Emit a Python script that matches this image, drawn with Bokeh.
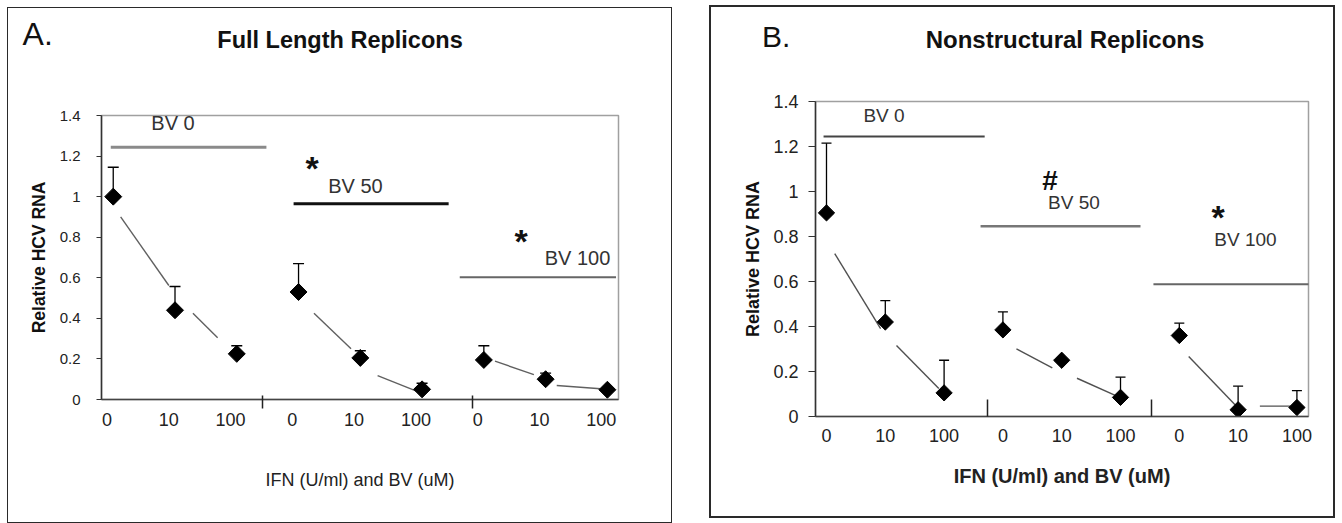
import math
from bokeh.plotting import figure
from bokeh.models import FixedTicker, Label, Spacer, ColumnDataSource, Div
from bokeh.layouts import row, column
from bokeh.embed import file_html
from bokeh.resources import INLINE

# ---------------- data ----------------
ifn_labels = ["0", "10", "100", "0", "10", "100", "0", "10", "100"]
bv_groups = ["BV 0", "BV 50", "BV 100"]
y_ticks = [0, 0.2, 0.4, 0.6, 0.8, 1.0, 1.2, 1.4]
y_tick_labels = ["0", "0.2", "0.4", "0.6", "0.8", "1", "1.2", "1.4"]

# Panel A: Full Length Replicons
a_values = [1.0, 0.44, 0.225, 0.53, 0.205, 0.05, 0.195, 0.10, 0.048]
a_errors = [0.145, 0.117, 0.04, 0.14, 0.035, 0.03, 0.07, 0.03, 0.0]
a_marks = ["", "*", "*"]
a_bar_level = [1.243, 0.965, 0.603]
a_bar_start = [-0.04, 2.92, 5.61]
a_bar_end = [2.48, 5.43, 8.14]
a_trend_x0 = [0.12, 1.29, 3.25, 4.28, 6.18, 7.18]
a_trend_y0 = [0.90, 0.425, 0.425, 0.118, 0.189, 0.069]
a_trend_x1 = [0.90, 1.69, 3.85, 4.91, 6.81, 7.89]
a_trend_y1 = [0.562, 0.304, 0.25, 0.041, 0.123, 0.053]

# Panel B: Nonstructural Replicons
b_values = [0.905, 0.42, 0.105, 0.385, 0.25, 0.085, 0.36, 0.03, 0.04]
b_errors = [0.31, 0.095, 0.145, 0.08, 0.0, 0.09, 0.055, 0.105, 0.075]
b_marks = ["", "#", "*"]
b_bar_level = [1.245, 0.846, 0.588]
b_bar_start = [-0.05, 2.62, 5.56]
b_bar_end = [2.69, 5.34, 8.28]
b_trend_x0 = [0.14, 1.19, 3.23, 4.26, 6.16, 7.37]
b_trend_y0 = [0.724, 0.316, 0.301, 0.17, 0.267, 0.046]
b_trend_x1 = [0.92, 1.91, 3.84, 4.92, 6.96, 7.89]
b_trend_y1 = [0.391, 0.124, 0.216, 0.093, 0.049, 0.046]

SANS = "'Liberation Sans', Arial, sans-serif"
HEAD_H = 60  # height of the heading strip (letter + title)


def heading(cfg):
    w = cfg["w"]
    lx, ltop, ltxt, lsize = cfg["letter"]
    tx, ttop, ttxt, tsize = cfg["title"]
    html = (
        '<div style="position:relative;width:%dpx;height:%dpx;overflow:visible;'
        'font-family:%s;color:#111111;">'
        '<span style="position:absolute;left:%.1fpx;top:%.1fpx;font-size:%s;line-height:1;'
        'white-space:nowrap;">%s</span>'
        '<span style="position:absolute;left:%.1fpx;top:%.1fpx;font-size:%s;font-weight:bold;'
        'line-height:1;white-space:nowrap;transform:translateX(-50%%);">%s</span>'
        '</div>'
    ) % (w, HEAD_H, SANS.replace("'", "&#39;"), lx, ltop, lsize, ltxt, tx, ttop, tsize, ttxt)
    return Div(text=html, width=w, height=HEAD_H, margin=0)


def make_panel(cfg, values, errors, trend, bars, marks):
    fl, ft, fr, fb = cfg["frame"]  # frame in page pixels
    x0r, x1r = cfg["xr"]
    ox, oy = cfg["origin"]
    oy = oy + HEAD_H
    h = cfg["h"] - HEAD_H
    p = figure(
        width=cfg["w"], height=h,
        min_border_left=fl - ox, min_border_top=ft - oy,
        min_border_right=cfg["w"] - (fr - ox), min_border_bottom=h - (fb - oy),
        x_range=(x0r, x1r), y_range=(0, 1.4),
        output_backend="svg", toolbar_location=None,
        border_fill_alpha=0, background_fill_color="white", margin=0,
    )
    p.grid.visible = False
    p.outline_line_color = "#a0a0a0"
    p.outline_line_width = 1.5

    def dx(px):
        return x0r + (px - fl) / (fr - fl) * (x1r - x0r)

    def dy(py):
        return (fb - py) / (fb - ft) * 1.4

    # axes
    xs = list(range(len(values)))
    tick_pos = [i + cfg["label_shift"] for i in xs]
    p.xaxis.ticker = FixedTicker(ticks=tick_pos, minor_ticks=cfg["separators"])
    p.xaxis.major_label_overrides = {t: lab for t, lab in zip(tick_pos, ifn_labels)}
    p.xaxis.major_tick_line_color = None
    p.xaxis.major_tick_in = 0
    p.xaxis.major_tick_out = 0
    p.xaxis.minor_tick_line_color = "#222222"
    p.xaxis.minor_tick_line_width = 1.5
    p.xaxis.minor_tick_in = cfg["sep_in"]
    p.xaxis.minor_tick_out = cfg["sep_out"]
    p.xaxis.axis_line_color = "#444444"
    p.xaxis.axis_line_width = 1.5
    p.xaxis.major_label_text_font = SANS
    p.xaxis.major_label_text_font_size = cfg["xtick_size"]
    p.xaxis.major_label_text_color = "#222222"
    p.xaxis.major_label_standoff = cfg["xtick_standoff"]
    p.xaxis.axis_label = "IFN (U/ml) and BV (uM)"
    p.xaxis.axis_label_text_font = SANS
    p.xaxis.axis_label_text_font_size = cfg["xlab_size"]
    p.xaxis.axis_label_text_font_style = cfg["xlab_style"]
    p.xaxis.axis_label_text_color = "#222222"
    p.xaxis.axis_label_standoff = cfg["xlab_standoff"]

    p.yaxis.ticker = FixedTicker(ticks=y_ticks, minor_ticks=[])
    p.yaxis.major_label_overrides = {t: lab for t, lab in zip(y_ticks, y_tick_labels)}
    p.yaxis.major_tick_in = 0
    p.yaxis.major_tick_out = cfg["ytick_out"]
    p.yaxis.major_tick_line_color = "#333333"
    p.yaxis.major_tick_line_width = 1.2
    p.yaxis.minor_tick_line_color = None
    p.yaxis.axis_line_color = "#333333"
    p.yaxis.axis_line_width = 1.5
    p.yaxis.major_label_text_font = SANS
    p.yaxis.major_label_text_font_size = cfg["ytick_size"]
    p.yaxis.major_label_text_color = "#222222"
    p.yaxis.major_label_standoff = cfg["ytick_standoff"]
    p.yaxis.axis_label = "Relative HCV RNA"
    p.yaxis.axis_label_text_font = SANS
    p.yaxis.axis_label_text_font_size = cfg["ylab_size"]
    p.yaxis.axis_label_text_font_style = "bold"
    p.yaxis.axis_label_text_color = "#111111"
    p.yaxis.axis_label_standoff = cfg["ylab_standoff"]

    # group bars
    lvl, st, en = bars
    for i in range(3):
        p.segment(x0=[st[i]], y0=[lvl[i]], x1=[en[i]], y1=[lvl[i]],
                  line_color=cfg["bar_colors"][i], line_width=cfg["bar_widths"][i])

    # trend segments
    tx0, ty0, tx1, ty1 = trend
    p.segment(x0=tx0, y0=ty0, x1=tx1, y1=ty1, line_color=cfg["trend_color"], line_width=1.4)

    # error bars
    src = ColumnDataSource(dict(
        x=xs, y=values, top=[v + e for v, e in zip(values, errors)]))
    p.segment(x0="x", y0="y", x1="x", y1="top", source=src, line_color="black", line_width=1.3)
    capx = [x for x, e in zip(xs, errors) if e > 0]
    capy = [v + e for v, e in zip(values, errors) if e > 0]
    p.scatter(capx, capy, marker="dash", size=cfg["cap"], line_color="black", line_width=1.4)

    # data points
    p.scatter(xs, values, marker="square", angle=math.pi / 4, size=cfg["msize"],
              fill_color="black", line_color="black")

    # group labels and significance marks
    for i, g in enumerate(bv_groups):
        cx, cy = cfg["bv_pos"][i]
        p.add_layout(Label(x=dx(cx), y=dy(cy), text=g, text_font=SANS,
                           text_font_size=cfg["bv_size"], text_align="center",
                           text_baseline="middle", text_color="#333333"))
        if marks[i]:
            mx, my, ms = cfg["mark_pos"][i]
            p.add_layout(Label(x=dx(mx), y=dy(my), text=marks[i], text_font=SANS,
                               text_font_size=ms, text_font_style="bold", text_align="center",
                               text_baseline="middle", text_color="#111111"))

    panel = column(heading(cfg), p, spacing=0, margin=0,
                   styles={"background-color": "white",
                           "box-shadow": "inset 0 0 0 %s #2a2a2a" % cfg["bw"]})
    return panel


cfgA = dict(
    origin=(7, 7), w=665, h=516, bw="1px",
    frame=(101, 115, 618, 399), xr=(-0.19, 8.18), label_shift=-0.1,
    separators=[2.42, 5.81], sep_in=4, sep_out=9,
    xtick_size="18px", xtick_standoff=4,
    xlab_size="18px", xlab_style="normal", xlab_standoff=41,
    ytick_out=5, ytick_size="15px", ytick_standoff=16,
    ylab_size="17.5px", ylab_standoff=8,
    bar_colors=["#8a8a8a", "#111111", "#666666"], bar_widths=[3, 3, 2],
    trend_color="#606060", cap=11, msize=12,
    letter=(15.6, 11, "A.", "32px"),
    title=(333, 22, "Full Length Replicons", "23.5px"),
    bv_size="20px",
    bv_pos=[(172.5, 122.5), (355, 185.7), (577, 257.7)],
    mark_pos=[None, (311.7, 167.5, "34px"), (520.7, 240, "34px")],
)

cfgB = dict(
    origin=(709, 5), w=626, h=513, bw="2px",
    frame=(815, 101, 1308, 416), xr=(-0.187, 8.197), label_shift=0.0,
    separators=[2.73, 5.53], sep_in=17, sep_out=0,
    xtick_size="18px", xtick_standoff=12,
    xlab_size="20px", xlab_style="bold", xlab_standoff=20,
    ytick_out=7, ytick_size="18px", ytick_standoff=10,
    ylab_size="18px", ylab_standoff=7,
    bar_colors=["#444444", "#777777", "#666666"], bar_widths=[2, 2.5, 2],
    trend_color="#505050", cap=10, msize=11.5,
    letter=(53, 16.6, "B.", "30px"),
    title=(356, 22.7, "Nonstructural Replicons", "24px"),
    bv_size="19px",
    bv_pos=[(883.5, 115), (1073.5, 201.5), (1245, 239)],
    mark_pos=[None, (1049.5, 180, "28px"), (1217.5, 216.5, "34px")],
)

panelA = make_panel(cfgA, a_values, a_errors,
                    (a_trend_x0, a_trend_y0, a_trend_x1, a_trend_y1),
                    (a_bar_level, a_bar_start, a_bar_end), a_marks)
panelB = make_panel(cfgB, b_values, b_errors,
                    (b_trend_x0, b_trend_y0, b_trend_x1, b_trend_y1),
                    (b_bar_level, b_bar_start, b_bar_end), b_marks)

layout = row(
    Spacer(width=7, height=10, margin=0),
    column(Spacer(width=10, height=7, margin=0), panelA, spacing=0, margin=0),
    Spacer(width=37, height=10, margin=0),
    column(Spacer(width=10, height=5, margin=0), panelB, spacing=0, margin=0),
    spacing=0, margin=0,
)
open("out.html", "w").write(file_html(layout, INLINE))
